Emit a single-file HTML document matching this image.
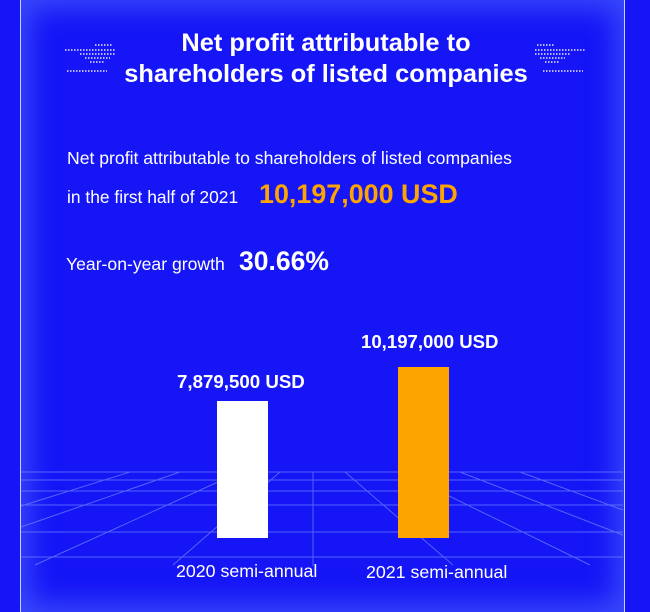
<!DOCTYPE html>
<html><head><meta charset="utf-8"><style>
body{margin:0;width:650px;height:612px;overflow:hidden;background:#1515f6;font-family:"Liberation Sans",sans-serif;position:relative}
.frame{position:absolute;left:20px;top:0;width:603px;height:612px;border-left:1px solid #c8d0ff;border-right:1px solid #c8d0ff;box-shadow:inset 0 0 28px 8px rgba(90,120,255,.55)}
.t{position:absolute;color:#fff;white-space:nowrap}
.b{font-weight:bold}
</style></head><body>
<div class="frame"></div>
<svg width="650" height="612" style="position:absolute;left:0;top:0">
<g stroke="#6f86ff" stroke-width="1" opacity=".7">
<line x1="21" y1="472" x2="623" y2="472"/><line x1="21" y1="480" x2="623" y2="480"/>
<line x1="21" y1="491" x2="623" y2="491"/><line x1="21" y1="505" x2="623" y2="505"/>
<line x1="21" y1="532" x2="623" y2="532"/><line x1="21" y1="557" x2="623" y2="557"/>
<line x1="313" y1="472" x2="313" y2="566"/>
<line x1="280" y1="472" x2="173" y2="565"/>
<line x1="240" y1="472" x2="35" y2="565"/>
<line x1="180" y1="472" x2="21" y2="527"/>
<line x1="130" y1="472" x2="21" y2="506"/>
<line x1="345" y1="472" x2="453" y2="565"/>
<line x1="400" y1="472" x2="590" y2="565"/>
<line x1="460" y1="472" x2="623" y2="535"/>
<line x1="520" y1="472" x2="623" y2="510"/>
</g>
<g stroke="#fff" stroke-width="1.5" stroke-dasharray="1.5 1.5" opacity=".9">
<line x1="65" y1="50" x2="115" y2="50"/><line x1="80" y1="54" x2="115" y2="54"/><line x1="85" y1="58" x2="110" y2="58"/><line x1="90" y1="62" x2="105" y2="62"/><line x1="67" y1="71" x2="107" y2="71"/><line x1="95" y1="45" x2="113" y2="45"/>
<line x1="535" y1="50" x2="585" y2="50"/><line x1="535" y1="54" x2="570" y2="54"/><line x1="540" y1="58" x2="565" y2="58"/><line x1="545" y1="62" x2="560" y2="62"/><line x1="543" y1="71" x2="583" y2="71"/><line x1="537" y1="45" x2="555" y2="45"/>
</g>
<rect x="217" y="401" width="51" height="137" fill="#fff"/>
<rect x="398" y="367" width="51" height="171" fill="#fea400"/>
</svg>
<div class="t b" style="left:0;width:652px;text-align:center;top:28px;font-size:25.4px;line-height:31px">Net profit attributable to<br>shareholders of listed companies</div>
<div class="t" style="left:67px;top:148px;font-size:17.6px">Net profit attributable to shareholders of listed companies</div>
<div class="t" style="left:67px;top:187px;font-size:17.4px">in the first half of 2021</div>
<div class="t b" style="left:259px;top:179px;font-size:26.9px;color:#fea400">10,197,000 USD</div>
<div class="t" style="left:66px;top:254px;font-size:17.6px">Year-on-year growth</div>
<div class="t b" style="left:239px;top:246px;font-size:26.5px">30.66%</div>
<div class="t b" style="left:177px;top:371px;font-size:18.7px">7,879,500 USD</div>
<div class="t b" style="left:361px;top:331px;font-size:18.6px">10,197,000 USD</div>
<div class="t" style="left:176px;top:561px;font-size:17.8px">2020 semi-annual</div>
<div class="t" style="left:366px;top:562px;font-size:17.8px">2021 semi-annual</div>
</body></html>
